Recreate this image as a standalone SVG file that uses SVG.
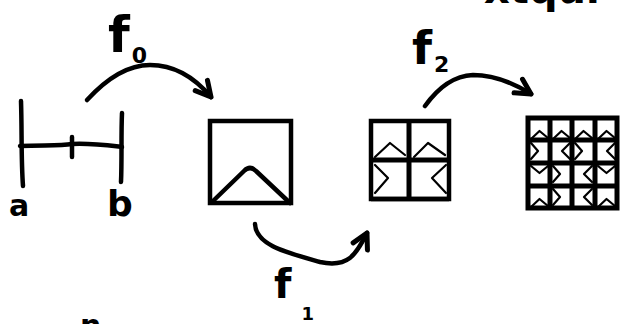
<svg xmlns="http://www.w3.org/2000/svg" width="620" height="324" viewBox="0 0 620 324">
  <style>
    .ink { fill: none; stroke: #000; stroke-width: 4.5; stroke-linecap: round; stroke-linejoin: round; }
    .frame { fill: none; stroke: #000; stroke-width: 4.5; stroke-linejoin: miter; }
    .grid { fill: none; stroke: #000; stroke-width: 5; }
    .thin { fill: none; stroke: #000; stroke-width: 2.2; stroke-linecap: round; stroke-linejoin: round; }
    .lbl { font-family: "DejaVu Sans", "Liberation Sans", sans-serif; font-weight: bold; fill: #000; }
  </style>
  <defs>
    <marker id="head" viewBox="-16 -12 20 24" refX="0" refY="0" markerWidth="20" markerHeight="24" markerUnits="userSpaceOnUse" orient="auto" overflow="visible">
      <path d="M-15,-8 L0,0 L-15,8" fill="none" stroke="#000" stroke-width="5" stroke-linecap="round" stroke-linejoin="round"/>
    </marker>
    <!-- glyphs inside the 4x4 grid cells (cell ~22.5 px) -->
    <path id="up" class="thin" d="M3,21 L11.5,13 L20,20"/>
    <path id="rt" class="thin" d="M3,3 L10,11 L3,19"/>
    <path id="lt" class="thin" d="M20,3 L12,11 L20,19"/>
    <path id="dn" class="thin" d="M3,3 L11.5,10 L20,3"/>
  </defs>

  <!-- interval [a, b] -->
  <g id="interval">
    <path class="ink" d="M21,101 C22,130 21,160 23,186"/>
    <path class="ink" d="M122,113 C121,135 122,160 121,182"/>
    <path class="ink" d="M20,146 C45,145 60,146 72,144 C90,143 105,145 122,147"/>
    <path class="ink" d="M72,137 L72,157"/>
    <text class="lbl" x="9" y="216" font-size="30">a</text>
    <text class="lbl" x="107" y="216" font-size="36">b</text>
  </g>

  <!-- unit square with one tent -->
  <g id="square0">
    <rect class="frame" x="210" y="121" width="81" height="82"/>
    <path class="ink" d="M212,202 L244,171 Q250,165 256,171 L290,203"/>
  </g>

  <!-- 2x2 subdivision -->
  <g id="square1">
    <rect class="frame" x="371" y="121" width="78" height="78"/>
    <path class="grid" d="M409,121 L409,199 M371,160 L449,160"/>
    <path class="frame" d="M371,199 L449,199" stroke-width="6"/>
    <path class="thin" stroke-width="2.8" d="M375,157 L390,143 L405,155"/>
    <path class="thin" stroke-width="2.8" d="M414,157 L428,143 L445,155"/>
    <path class="thin" stroke-width="2.8" d="M375,165 L388,178 L375,193"/>
    <path class="thin" stroke-width="2.8" d="M446,165 L432,178 L446,193"/>
  </g>

  <!-- 4x4 subdivision -->
  <g id="square2">
    <rect class="grid" x="528" y="118" width="89" height="90"/>
    <path class="grid" d="M550,118 L550,208 M572,118 L572,208 M595,118 L595,208 M528,140 L617,140 M528,163 L617,163 M528,186 L617,186"/>
    <use href="#up" x="528" y="118"/>
    <use href="#up" x="550" y="118"/>
    <use href="#up" x="572" y="118"/>
    <use href="#up" x="595" y="118"/>
    <use href="#rt" x="528" y="140"/>
    <use href="#lt" x="550" y="140"/>
    <use href="#rt" x="572" y="140"/>
    <use href="#lt" x="595" y="140"/>
    <use href="#dn" x="528" y="163"/>
    <use href="#rt" x="550" y="163"/>
    <use href="#lt" x="572" y="163"/>
    <use href="#dn" x="595" y="163"/>
    <use href="#up" x="528" y="186"/>
    <use href="#rt" x="550" y="186"/>
    <use href="#lt" x="572" y="186"/>
    <use href="#up" x="595" y="186"/>
  </g>

  <!-- maps between stages -->
  <g id="connectors">
    <path class="ink" marker-end="url(#head)" d="M87,100 C110,75 130,65 150,65 C175,65 195,78 211,97"/>
    <path class="ink" marker-end="url(#head)" d="M255,224 C256,245 285,252 320,262 C348,268 356,255 367,233"/>
    <path class="ink" marker-end="url(#head)" d="M425,106 C440,85 455,76 473,75 C495,75 515,84 531,94"/>
  </g>

  <!-- map labels -->
  <g id="labels">
    <text class="lbl" x="108" y="52" font-size="50">f<tspan font-size="22" dx="2" dy="11">0</tspan></text>
    <text class="lbl" x="274" y="298" font-size="40">f<tspan font-size="18" dx="10" dy="22">1</tspan></text>
    <text class="lbl" x="412" y="64" font-size="46">f<tspan font-size="22" dx="2" dy="8">2</tspan></text>
    <text class="lbl" x="80" y="336" font-size="30">n</text>
    <text class="lbl" x="484" y="3" font-size="40">xtqui</text>
  </g>
</svg>
